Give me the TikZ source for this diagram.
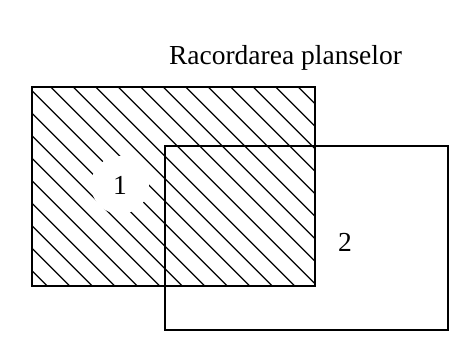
\documentclass[tikz,border=0pt]{standalone}
\usepackage{fontspec}
\setmainfont{Liberation Serif}
\usepackage{tikz}

\begin{document}
\begin{tikzpicture}[x=1pt,y=-1pt,
  r/.style={draw=black,line width=1.6pt},
  h/.style={line width=1.2pt},
  t/.style={font=\fontsize{27.5}{30}\selectfont,inner sep=0pt,anchor=base}]
\useasboundingbox (0,0) rectangle (453,350);
\begin{scope}
\clip (32,87) rectangle (315,286);
\foreach \k in {-1,...,21}
  \draw[h] (-238.7+22.5*\k-20,-20) -- (-238.7+22.5*\k+400,400);
\end{scope}
\node[circle,fill=white,minimum size=58pt] (gap) at (120,185) {};
\node[t] (one) at (120,194.3) {1};
\draw[r] (32,87) rectangle (315,286);
\draw[r] (165,146) rectangle (448,330);
\node[t] (two) at (345,251.7) {2};
\node[t] (title) at (285.5,64.3) {Racordarea planselor};
\end{tikzpicture}
\end{document}
